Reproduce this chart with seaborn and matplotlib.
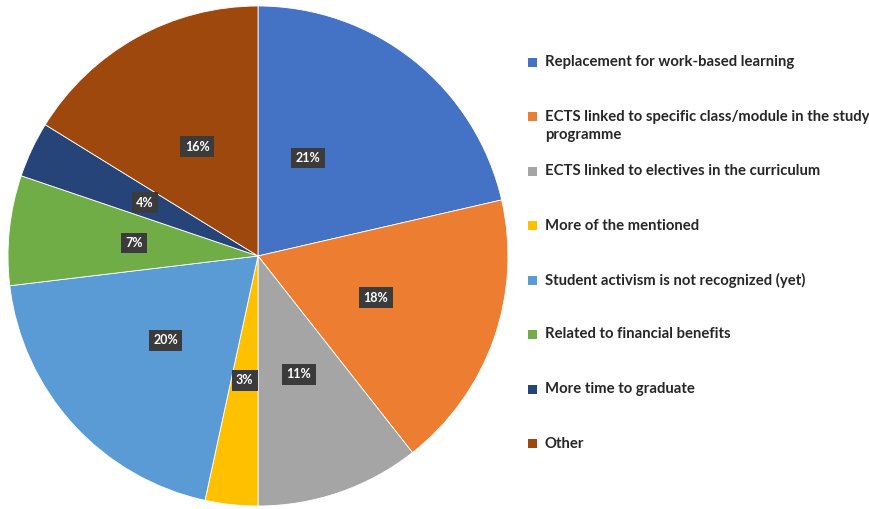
import numpy as np
import matplotlib
matplotlib.use("Agg")
import matplotlib.pyplot as plt
import seaborn as sns
from matplotlib.patches import Rectangle

# Data (slice sizes, labels as printed on the chart)
categories = ['Replacement for work-based learning',
              'ECTS linked to specific class/module in the study\nprogramme',
              'ECTS linked to electives in the curriculum',
              'More of the mentioned',
              'Student activism is not recognized (yet)',
              'Related to financial benefits',
              'More time to graduate',
              'Other']
shares = [21.4, 18.0, 10.6, 3.4, 19.7, 7.1, 3.6, 16.2]
pct_labels = ['21%', '18%', '11%', '3%', '20%', '7%', '4%', '16%']
colors = ['#4472C4', '#ED7D31', '#A5A5A5', '#FFC000',
          '#5B9BD5', '#70AD47', '#264478', '#9E480E']

sns.set_theme(style='white')
plt.rcParams['font.family'] = ['Lato', 'DejaVu Sans']
palette = sns.color_palette(colors)

fig = plt.figure(figsize=(8.7, 5.09), dpi=100)
W, H = 870, 509
cx, cy, r = 258, 256, 250
ax = fig.add_axes([(cx - r) / W, (H - cy - r) / H, 2 * r / W, 2 * r / H])

wedges, texts = ax.pie(
    shares, colors=palette, startangle=90, counterclock=False,
    wedgeprops=dict(edgecolor='white', linewidth=0.6))

# percentage boxes at half radius, the first one sits a bit closer in
cum = np.cumsum([0] + shares[:-1])
for i, (s, c, lab) in enumerate(zip(shares, cum, pct_labels)):
    ang = np.deg2rad(90 - (c + s / 2) * 3.6)
    d = 0.5
    if i == 0:
        ang, d = np.deg2rad(63), 0.44
    ax.text(d * np.cos(ang), d * np.sin(ang), lab, ha='center', va='center',
            color='white', fontsize=9, fontweight='bold',
            bbox=dict(facecolor='#3b3b3b', edgecolor='none',
                      boxstyle='square,pad=0.35'))
ax.set_aspect('equal')
ax.set_xlim(-1, 1)
ax.set_ylim(-1, 1)
ax.axis('off')

# Legend drawn by hand to match the spacing
x0, y0, step = 533, 62, 54.5
for i, (lab, col) in enumerate(zip(categories, palette)):
    y = y0 + i * step
    fig.patches.append(Rectangle(((x0 - 5) / W, 1 - (y + 4.5) / H), 9 / W, 9 / H,
                                 transform=fig.transFigure, facecolor=col,
                                 edgecolor='none'))
    if '\n' in lab:
        fig.text((x0 + 12) / W, 1 - (y - 6) / H, lab, fontsize=10.7,
                 fontweight='bold', color='#262626', va='top',
                 linespacing=1.3, transform=fig.transFigure)
    else:
        fig.text((x0 + 12) / W, 1 - y / H, lab, fontsize=10.7,
                 fontweight='bold', color='#262626', va='center',
                 transform=fig.transFigure)

fig.savefig('out.png', dpi=100)
